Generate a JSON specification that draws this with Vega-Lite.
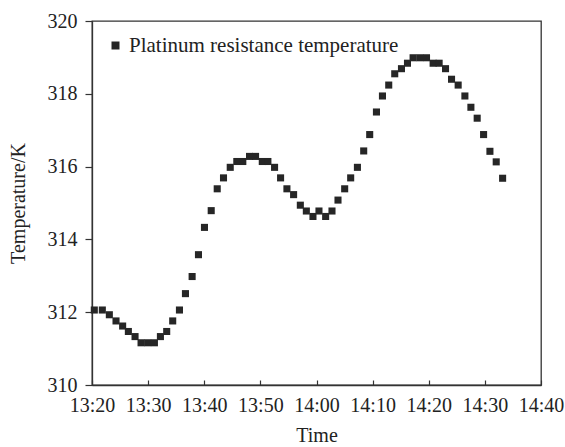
{
  "$schema": "https://vega.github.io/schema/vega-lite/v6.json",
  "width": 449,
  "height": 364,
  "autosize": {"type": "none"},
  "padding": {"left": 92, "top": 21, "right": 24, "bottom": 62},
  "background": "white",
  "config": {
    "font": "Liberation Serif",
    "view": {"stroke": "#333333", "strokeWidth": 1.3},
    "axis": {"grid": false, "domainColor": "#333333", "tickColor": "#333333", "domainWidth": 1.3, "tickWidth": 1.2, "labelFont": "Liberation Serif", "titleFont": "Liberation Serif", "labelFontSize": 20, "titleFontSize": 20, "titleFontWeight": "normal", "labelColor": "#222222", "titleColor": "#222222"}
  },
  "data": {
    "values": [
      {"time": 800.41, "temp": 312.06, "series": "Platinum resistance temperature"},
      {"time": 801.84, "temp": 312.06, "series": "Platinum resistance temperature"},
      {"time": 803.09, "temp": 311.93, "series": "Platinum resistance temperature"},
      {"time": 804.28, "temp": 311.76, "series": "Platinum resistance temperature"},
      {"time": 805.46, "temp": 311.62, "series": "Platinum resistance temperature"},
      {"time": 806.48, "temp": 311.47, "series": "Platinum resistance temperature"},
      {"time": 807.67, "temp": 311.33, "series": "Platinum resistance temperature"},
      {"time": 808.74, "temp": 311.16, "series": "Platinum resistance temperature"},
      {"time": 809.92, "temp": 311.16, "series": "Platinum resistance temperature"},
      {"time": 811.12, "temp": 311.16, "series": "Platinum resistance temperature"},
      {"time": 812.19, "temp": 311.33, "series": "Platinum resistance temperature"},
      {"time": 813.31, "temp": 311.47, "series": "Platinum resistance temperature"},
      {"time": 814.38, "temp": 311.76, "series": "Platinum resistance temperature"},
      {"time": 815.58, "temp": 312.06, "series": "Platinum resistance temperature"},
      {"time": 816.65, "temp": 312.51, "series": "Platinum resistance temperature"},
      {"time": 817.84, "temp": 312.98, "series": "Platinum resistance temperature"},
      {"time": 818.97, "temp": 313.58, "series": "Platinum resistance temperature"},
      {"time": 820.04, "temp": 314.33, "series": "Platinum resistance temperature"},
      {"time": 821.24, "temp": 314.79, "series": "Platinum resistance temperature"},
      {"time": 822.31, "temp": 315.39, "series": "Platinum resistance temperature"},
      {"time": 823.43, "temp": 315.69, "series": "Platinum resistance temperature"},
      {"time": 824.63, "temp": 315.98, "series": "Platinum resistance temperature"},
      {"time": 825.80, "temp": 316.14, "series": "Platinum resistance temperature"},
      {"time": 826.87, "temp": 316.14, "series": "Platinum resistance temperature"},
      {"time": 828.07, "temp": 316.28, "series": "Platinum resistance temperature"},
      {"time": 829.14, "temp": 316.28, "series": "Platinum resistance temperature"},
      {"time": 830.34, "temp": 316.14, "series": "Platinum resistance temperature"},
      {"time": 831.34, "temp": 316.14, "series": "Platinum resistance temperature"},
      {"time": 832.53, "temp": 315.98, "series": "Platinum resistance temperature"},
      {"time": 833.60, "temp": 315.69, "series": "Platinum resistance temperature"},
      {"time": 834.73, "temp": 315.39, "series": "Platinum resistance temperature"},
      {"time": 835.92, "temp": 315.23, "series": "Platinum resistance temperature"},
      {"time": 837.12, "temp": 314.94, "series": "Platinum resistance temperature"},
      {"time": 838.19, "temp": 314.78, "series": "Platinum resistance temperature"},
      {"time": 839.37, "temp": 314.63, "series": "Platinum resistance temperature"},
      {"time": 840.44, "temp": 314.78, "series": "Platinum resistance temperature"},
      {"time": 841.63, "temp": 314.63, "series": "Platinum resistance temperature"},
      {"time": 842.76, "temp": 314.78, "series": "Platinum resistance temperature"},
      {"time": 843.83, "temp": 315.08, "series": "Platinum resistance temperature"},
      {"time": 845.02, "temp": 315.39, "series": "Platinum resistance temperature"},
      {"time": 846.09, "temp": 315.69, "series": "Platinum resistance temperature"},
      {"time": 847.29, "temp": 315.98, "series": "Platinum resistance temperature"},
      {"time": 848.41, "temp": 316.43, "series": "Platinum resistance temperature"},
      {"time": 849.48, "temp": 316.88, "series": "Platinum resistance temperature"},
      {"time": 850.68, "temp": 317.50, "series": "Platinum resistance temperature"},
      {"time": 851.75, "temp": 317.94, "series": "Platinum resistance temperature"},
      {"time": 852.87, "temp": 318.24, "series": "Platinum resistance temperature"},
      {"time": 853.94, "temp": 318.55, "series": "Platinum resistance temperature"},
      {"time": 855.14, "temp": 318.69, "series": "Platinum resistance temperature"},
      {"time": 856.21, "temp": 318.84, "series": "Platinum resistance temperature"},
      {"time": 857.21, "temp": 318.99, "series": "Platinum resistance temperature"},
      {"time": 858.41, "temp": 318.99, "series": "Platinum resistance temperature"},
      {"time": 859.60, "temp": 318.99, "series": "Platinum resistance temperature"},
      {"time": 860.78, "temp": 318.84, "series": "Platinum resistance temperature"},
      {"time": 861.85, "temp": 318.84, "series": "Platinum resistance temperature"},
      {"time": 862.99, "temp": 318.69, "series": "Platinum resistance temperature"},
      {"time": 864.06, "temp": 318.40, "series": "Platinum resistance temperature"},
      {"time": 865.24, "temp": 318.24, "series": "Platinum resistance temperature"},
      {"time": 866.44, "temp": 317.94, "series": "Platinum resistance temperature"},
      {"time": 867.51, "temp": 317.63, "series": "Platinum resistance temperature"},
      {"time": 868.63, "temp": 317.33, "series": "Platinum resistance temperature"},
      {"time": 869.77, "temp": 316.88, "series": "Platinum resistance temperature"},
      {"time": 870.90, "temp": 316.42, "series": "Platinum resistance temperature"},
      {"time": 872.02, "temp": 316.13, "series": "Platinum resistance temperature"},
      {"time": 873.16, "temp": 315.68, "series": "Platinum resistance temperature"}
    ]
  },
  "mark": {"type": "point", "filled": true, "opacity": 1, "size": 50},
  "encoding": {
    "x": {
      "field": "time", "type": "quantitative",
      "scale": {"domain": [800, 880], "nice": false, "zero": false},
      "axis": {"title": "Time", "values": [800, 810, 820, 830, 840, 850, 860, 870, 880],
        "labelExpr": "floor(datum.value / 60) + ':' + (datum.value % 60 < 10 ? '0' : '') + (datum.value % 60)",
        "tickSize": -5, "labelPadding": 15, "titlePadding": 10, "labelFlush": false}
    },
    "y": {
      "field": "temp", "type": "quantitative",
      "scale": {"domain": [310, 320], "nice": false, "zero": false},
      "axis": {"title": "Temperature/K", "values": [310, 312, 314, 316, 318, 320], "tickSize": 7, "labelPadding": 8, "titlePadding": 19}
    },
    "color": {
      "field": "series", "type": "nominal",
      "scale": {"range": ["#262626"]},
      "legend": {"title": null, "orient": "none", "legendX": 13, "legendY": 14, "symbolSize": 64, "labelFontSize": 21, "labelLimit": 500, "labelFont": "Liberation Serif", "labelColor": "#222222", "labelOffset": 3, "symbolStrokeWidth": 0}
    },
    "shape": {
      "field": "series", "type": "nominal",
      "scale": {"range": ["square"]}
    }
  }
}
